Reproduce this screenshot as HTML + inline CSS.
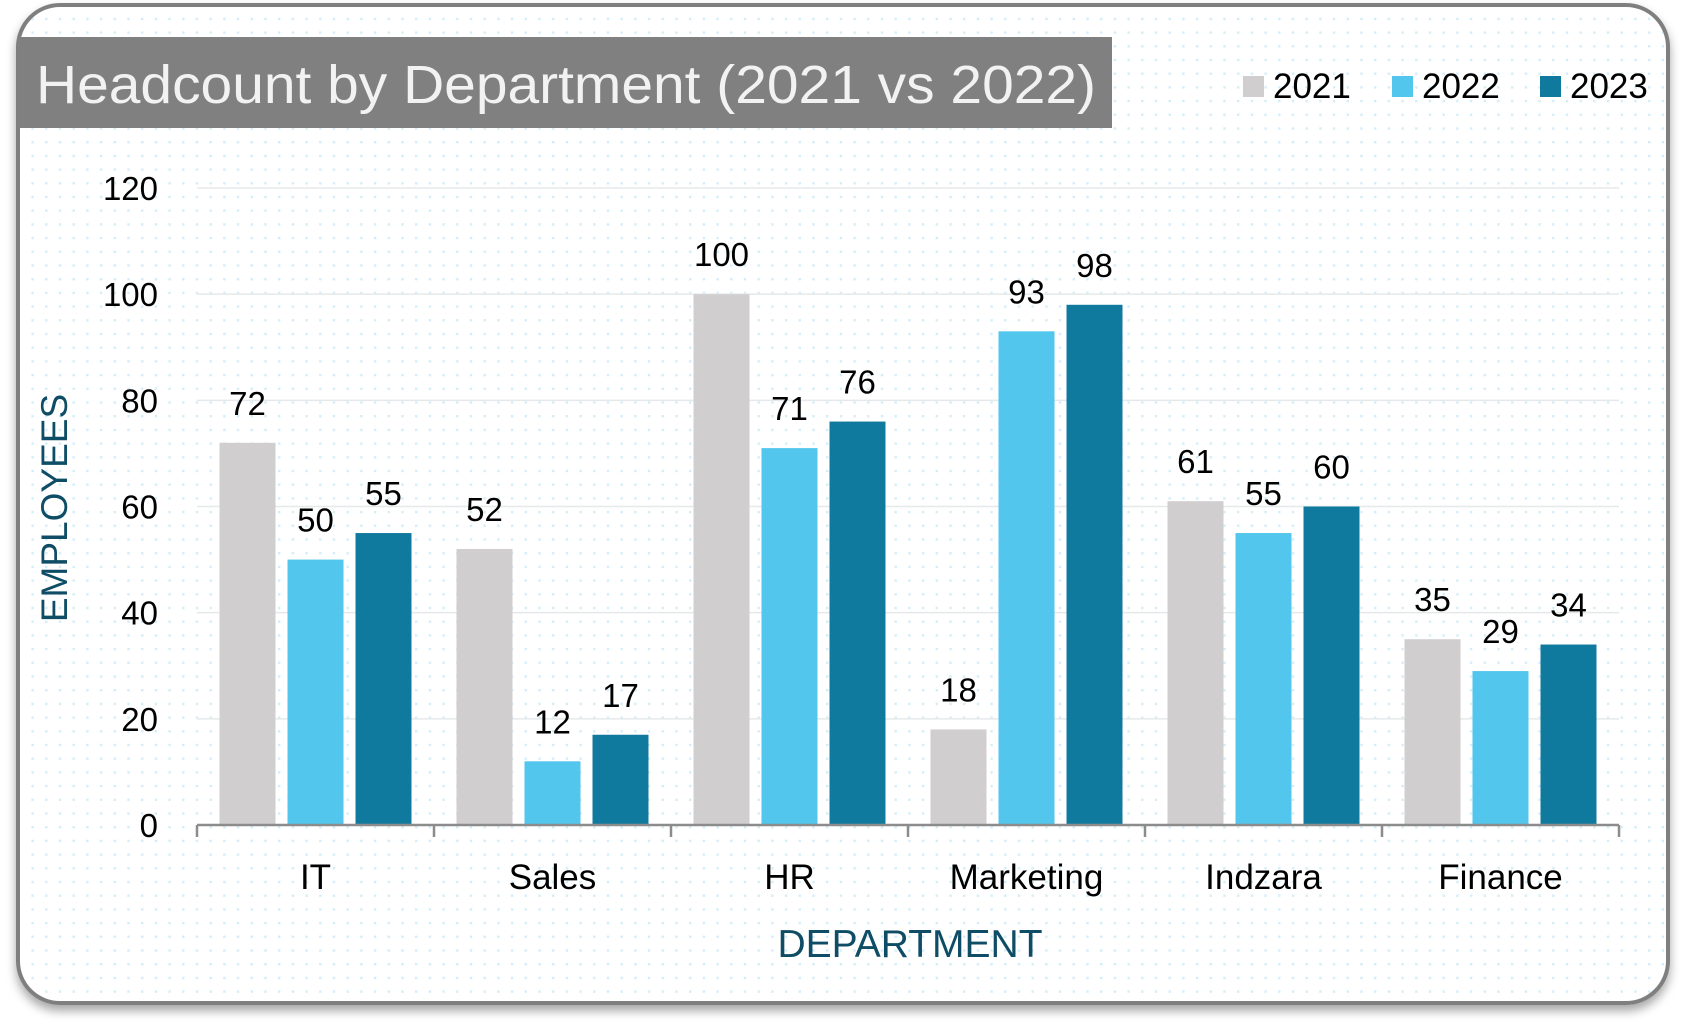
<!DOCTYPE html>
<html><head><meta charset="utf-8"><style>
html,body{margin:0;padding:0;background:#fff;}
svg{display:block;font-family:"Liberation Sans",sans-serif;}
</style></head><body>
<svg id="chart" width="1688" height="1036" viewBox="0 0 1688 1036" xmlns="http://www.w3.org/2000/svg">
<defs>
<pattern id="dots" x="4" y="4" width="13.7" height="13.7" patternUnits="userSpaceOnUse">
<rect width="2.4" height="2.4" fill="#d3eef9"/>
</pattern>
<filter id="sh" x="-5%" y="-5%" width="110%" height="115%">
<feDropShadow dx="0" dy="6" stdDeviation="5" flood-color="#000" flood-opacity="0.35"/>
</filter>
</defs>
<rect x="18" y="5" width="1650" height="998" rx="42" fill="#fff" stroke="#7f7f7f" stroke-width="4" filter="url(#sh)"/>
<rect x="20" y="7" width="1646" height="994" rx="40" fill="url(#dots)"/>
<rect x="18" y="37" width="1094" height="91" fill="#808080"/>
<text x="36" y="103" font-size="54" fill="#f2f2f2" textLength="1060" lengthAdjust="spacingAndGlyphs">Headcount by Department (2021 vs 2022)</text>
<g id="legend"></g>
<g id="grid"></g>
<g id="bars"></g>
<g id="axes"></g>
<text x="910" y="957" text-anchor="middle" font-size="39" fill="#0f4d66">DEPARTMENT</text>
<text transform="translate(67,508) rotate(-90)" text-anchor="middle" font-size="37" fill="#0f4d66">EMPLOYEES</text>
</svg>
<script>
const categories = ["IT","Sales","HR","Marketing","Indzara","Finance"];
const seriesNames = ["2021","2022","2023"];
const values2021 = [72,52,100,18,61,35];
const values2022 = [50,12,71,93,55,29];
const values2023 = [55,17,76,98,60,34];
const yTicks = [0,20,40,60,80,100,120];
const colors = ["#d0cece","#52c6ec","#10799e"];
const series = [values2021, values2022, values2023];
const NS = "http://www.w3.org/2000/svg";
const x0 = 197, x1 = 1619, yBase = 825, yTop = 188, yMax = 120;
const catW = (x1 - x0) / categories.length;
const barW = 56, gap = 12;
function yScale(v){ return yBase - (v / yMax) * (yBase - yTop); }
function xCat(i){ return x0 + i * catW; }
function mk(tag, attrs, parent){ const e = document.createElementNS(NS, tag); for (const k in attrs) e.setAttribute(k, attrs[k]); parent.appendChild(e); return e; }
const grid = document.getElementById("grid"), bars = document.getElementById("bars"), axes = document.getElementById("axes"), legend = document.getElementById("legend");
yTicks.forEach(t => {
  const y = yScale(t);
  if (t > 0) {
    const gl = mk("line", {x1: x0, x2: x1, y1: y, y2: y, stroke: "#e6e9ea", "stroke-width": 1.5}, grid);
    
    
  }
  const tl = mk("text", {x: 158, y: y + 12, "text-anchor": "end", "font-size": 33, fill: "#000"}, axes);
  tl.textContent = t;
  
  
});
const groupW = barW * 3 + gap * 2;
categories.forEach((c, i) => {
  const start = xCat(i) + (catW - groupW) / 2;
  series.forEach((s, j) => {
    const v = s[i];
    const bx = start + j * (barW + gap);
    const r = mk("rect", {x: bx, y: yScale(v), width: barW, height: yBase - yScale(v), fill: colors[j]}, bars);
    
    
    const lb = mk("text", {x: bx + barW / 2, y: yScale(v) - 28, "text-anchor": "middle", "font-size": 33, fill: "#000"}, bars);
    lb.textContent = v;
    
    
  });
  const cl = mk("text", {x: xCat(i) + catW / 2, y: 889, "text-anchor": "middle", "font-size": 35, fill: "#000"}, axes);
  cl.textContent = c;
  
  
});
const ax = mk("line", {x1: x0, x2: x1, y1: yBase, y2: yBase, stroke: "#8c8c8c", "stroke-width": 2.5}, axes);


for (let i = 0; i <= categories.length; i++) {
  const tk = mk("line", {x1: xCat(i), x2: xCat(i), y1: yBase, y2: yBase + 12, stroke: "#8c8c8c", "stroke-width": 2.5}, axes);
  
  
}
const legX = [1243, 1392, 1540];
seriesNames.forEach((n, j) => {
  const sw = mk("rect", {x: legX[j], y: 76, width: 21, height: 21, fill: colors[j]}, legend);
  
  
  const lt = mk("text", {x: legX[j] + 30, y: 98, "font-size": 35, fill: "#000"}, legend);
  lt.textContent = n;
  
  
});
</script>
</body></html>
